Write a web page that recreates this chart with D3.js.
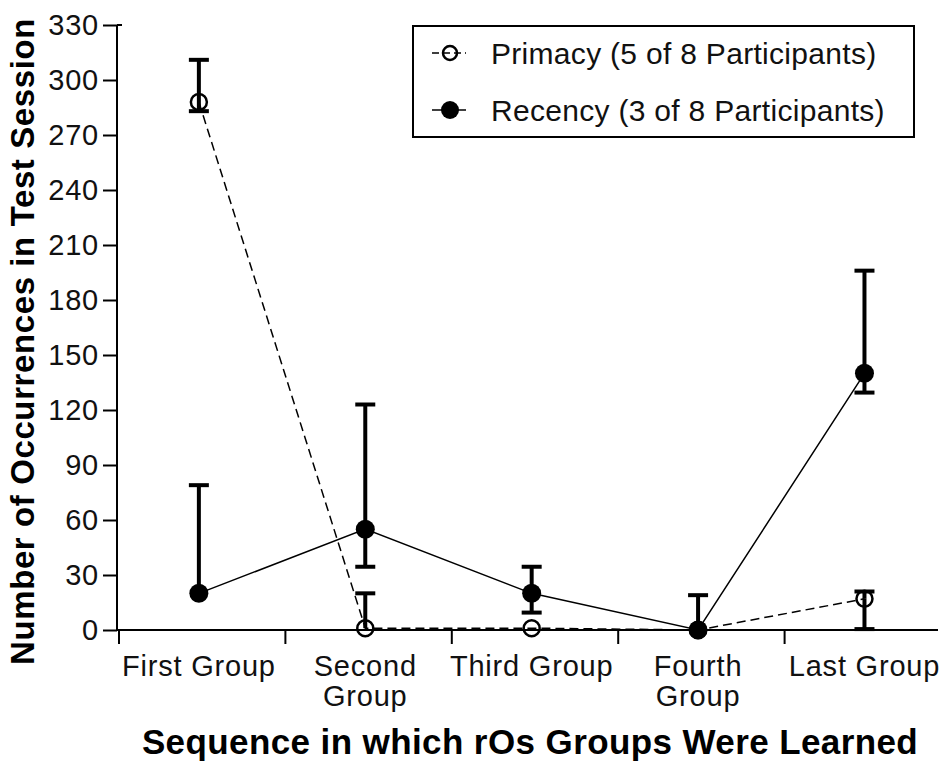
<!DOCTYPE html>
<html>
<head>
<meta charset="utf-8">
<script src="https://cdn.jsdelivr.net/npm/d3@7"></script>
<style>
  html, body { margin: 0; padding: 0; background: #fff; }
  svg { display: block; font-family: "Liberation Sans", Arial, sans-serif; }
</style>
</head>
<body>
<svg id="chart" width="941" height="763"></svg>
<script>
// ---- data ----
const categories = ["First Group", "Second Group", "Third Group", "Fourth Group", "Last Group"];
const categoryLines = [["First Group"], ["Second", "Group"], ["Third Group"], ["Fourth", "Group"], ["Last Group"]];
const yTicks = [0, 30, 60, 90, 120, 150, 180, 210, 240, 270, 300, 330];

const primacy      = [288, 1, 1, 0, 17];
const primacyUpper = [311, 20, null, null, 21];
const primacyLower = [283, null, null, null, 0.5];

const recency      = [20, 55, 20, 0, 140];
const recencyUpper = [79, 123, 34.5, 19, 196];
const recencyLower = [null, 34.5, 9.5, null, 129.5];

const seriesNames = ["Primacy (5 of 8 Participants)", "Recency (3 of 8 Participants)"];
const yTitle = "Number of Occurrences in Test Session";
const xTitle = "Sequence in which rOs Groups Were Learned";

// ---- layout ----
const svg = d3.select("#chart");
const axisX0 = 117, axisXEnd = 938;
const y = d3.scaleLinear().domain([0, 330]).range([630, 25]);
const x = d3.scaleBand().domain(categories).range([119, 951]).padding(0);
const px = c => x(c) + x.bandwidth() * 0.48;

// y axis
const yAxis = d3.axisLeft(y).tickValues(yTicks).tickSize(14).tickPadding(4);
const gy = svg.append("g").attr("transform", `translate(${axisX0},0)`).call(yAxis);
gy.select(".domain").attr("stroke", "#000").attr("stroke-width", 2).attr("d", `M0,${y(0)}V${y(330)}`);
gy.selectAll(".tick line").attr("stroke", "#000").attr("stroke-width", 2);
gy.selectAll(".tick text").attr("font-size", 29).attr("fill", "#111").attr("letter-spacing", 0.8)
  .attr("font-family", "'Liberation Sans', Arial, sans-serif");
// small top cap at the 330 tick
svg.append("line").attr("x1", axisX0).attr("x2", axisX0 + 5).attr("y1", y(330)).attr("y2", y(330))
  .attr("stroke", "#000").attr("stroke-width", 2);

// x axis line + ticks at band boundaries
svg.append("line").attr("x1", axisX0).attr("x2", axisXEnd).attr("y1", y(0)).attr("y2", y(0))
  .attr("stroke", "#000").attr("stroke-width", 2);
svg.append("g").selectAll("line").data(categories).join("line")
  .attr("x1", d => x(d)).attr("x2", d => x(d))
  .attr("y1", y(0)).attr("y2", y(0) + 14)
  .attr("stroke", "#000").attr("stroke-width", 2);

// category labels
const cl = svg.append("g").attr("font-size", 29).attr("fill", "#111").attr("text-anchor", "middle")
  .attr("letter-spacing", 0.8);
categories.forEach((c, i) => {
  categoryLines[i].forEach((ln, j) => {
    cl.append("text").attr("x", px(c)).attr("y", 676 + j * 30).text(ln);
  });
});

// axis titles
svg.append("text").attr("transform", `translate(34,${(15 + 668) / 2}) rotate(-90)`)
  .attr("text-anchor", "middle").attr("font-weight", "bold").attr("font-size", 33)
  .attr("letter-spacing", 0.6).attr("fill", "#000").text(yTitle);
svg.append("text").attr("x", 530).attr("y", 754)
  .attr("text-anchor", "middle").attr("font-weight", "bold").attr("font-size", 35)
  .attr("letter-spacing", 0.4).attr("fill", "#000").text(xTitle);

// lines
const lineGen = d3.line().x((d, i) => px(categories[i])).y(d => y(d));
svg.append("path").datum(primacy).attr("d", lineGen).attr("fill", "none")
  .attr("stroke", "#000").attr("stroke-width", 1.5).attr("stroke-dasharray", "9,5");
svg.append("path").datum(recency).attr("d", lineGen).attr("fill", "none")
  .attr("stroke", "#000").attr("stroke-width", 1.5);

// error bars
function errorBars(vals, ends) {
  const g = svg.append("g").attr("stroke", "#000").attr("stroke-width", 4);
  vals.forEach((v, i) => {
    const e = ends[i];
    if (e === null) return;
    const cx = px(categories[i]);
    g.append("line").attr("x1", cx).attr("x2", cx).attr("y1", y(v)).attr("y2", y(e));
    g.append("line").attr("x1", cx - 10).attr("x2", cx + 10).attr("y1", y(e)).attr("y2", y(e));
  });
}
errorBars(primacy, primacyUpper);
errorBars(primacy, primacyLower);
errorBars(recency, recencyUpper);
errorBars(recency, recencyLower);

// markers
svg.append("g").selectAll("circle").data(recency).join("circle")
  .attr("cx", (d, i) => px(categories[i])).attr("cy", d => y(d)).attr("r", 9.5).attr("fill", "#000");
svg.append("g").selectAll("circle").data(primacy).join("circle")
  .attr("cx", (d, i) => px(categories[i])).attr("cy", d => y(d)).attr("r", 8)
  .attr("fill", "none").attr("stroke", "#000").attr("stroke-width", 2.5);

// legend
const lg = svg.append("g");
lg.append("rect").attr("x", 413).attr("y", 26).attr("width", 501).attr("height", 111)
  .attr("fill", "#fff").attr("stroke", "#000").attr("stroke-width", 2);
const rows = [53, 110];
rows.forEach((ry, k) => {
  const ln = lg.append("line").attr("x1", 432).attr("x2", 466).attr("y1", ry).attr("y2", ry)
    .attr("stroke", "#000").attr("stroke-width", 1.5);
  if (k === 0) ln.attr("stroke-dasharray", "7,4");
  const c = lg.append("circle").attr("cx", 450).attr("cy", ry);
  if (k === 0) c.attr("r", 7).attr("fill", "none").attr("stroke", "#000").attr("stroke-width", 2.5);
  else c.attr("r", 9).attr("fill", "#000");
  lg.append("text").attr("x", 491).attr("y", ry).attr("dy", "0.35em")
    .attr("font-size", 30).attr("letter-spacing", 0.3).attr("fill", "#111").text(seriesNames[k]);
});
</script>
</body>
</html>
